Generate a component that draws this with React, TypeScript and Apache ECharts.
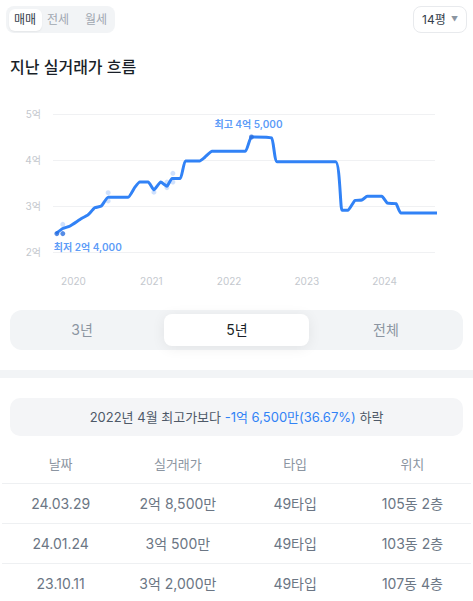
import React, { useEffect, useRef } from "react";
import * as echarts from "echarts";

// ---- Data ----
const lineDates = [
  "2019-10-10", "2019-11-12", "2019-12-14", "2020-02-08", "2020-03-08", "2020-04-10",
  "2020-05-11", "2020-06-12", "2020-09-14", "2020-10-16", "2020-11-08", "2020-12-17",
  "2021-01-13", "2021-02-14", "2021-03-15", "2021-04-08", "2021-05-17", "2021-06-10",
  "2021-08-16", "2021-09-09", "2021-10-13", "2022-03-18", "2022-04-16", "2022-07-19",
  "2022-08-15", "2023-05-16", "2023-06-15", "2023-07-14", "2023-08-15", "2023-09-16",
  "2023-10-12", "2023-12-19", "2024-01-15", "2024-02-24", "2024-03-17", "2024-09-22",
];
const lineValues = [
  24000, 25100, 25600, 27300, 28000, 29600,
  30000, 31900, 31900, 34100, 35200, 35200,
  33500, 35200, 34300, 36000, 36000, 39800,
  39800, 40600, 41900, 41900, 45000, 44800,
  39600, 39600, 29100, 29100, 31200, 31300,
  32100, 32100, 30600, 30500, 28500, 28500,
];
const tradeDates = [
  "2019-11-12", "2020-06-12", "2020-06-12", "2021-01-13",
  "2021-03-15", "2021-03-15", "2021-04-12", "2021-04-12",
];
const tradeValues = [26000, 32900, 31100, 33000, 35200, 34000, 37100, 35200];
const extremeDates = ["2019-10-15", "2019-11-12", "2022-04-16"];
const extremeValues = [24000, 24000, 45000];
const extremeLabels = ["최저 2억 4,000", "", "최고 4억 5,000"];
const yTicks = [20000, 30000, 40000, 50000];
const yearTicks = [2020, 2021, 2022, 2023, 2024];
const axisStart = "2019-09-27";
const axisEnd = "2024-08-25";

const dealTabs = ["매매", "전세", "월세"];
const periodTabs = ["3년", "5년", "전체"];
const tableHeaders = ["날짜", "실거래가", "타입", "위치"];
const rowDates = ["24.03.29", "24.01.24", "23.10.11"];
const rowPrices = ["2억 8,500만", "3억 500만", "3억 2,000만"];
const rowTypes = ["49타입", "49타입", "49타입"];
const rowLocations = ["105동 2층", "103동 2층", "107동 4층"];

const FONT = "Inter, 'Noto Sans CJK KR', 'Noto Sans', sans-serif";
const BLUE = "#3182f6";

const ts = (s: string) => {
  const [y, m, d] = s.split("-").map(Number);
  return new Date(y, m - 1, d).getTime();
};

function Chart() {
  const ref = useRef<HTMLDivElement>(null);
  useEffect(() => {
    if (!ref.current) return;
    const chart = echarts.init(ref.current, undefined, { renderer: "svg" });
    chart.setOption({
      animation: false,
      textStyle: { fontFamily: FONT },
      grid: { left: 53, right: 38, top: 24, height: 138 },
      xAxis: {
        type: "value",
        min: ts(axisStart),
        max: ts(axisEnd),
        axisLine: { show: false },
        axisTick: { show: false },
        splitLine: { show: false },
        axisLabel: {
          customValues: yearTicks.map((y) => new Date(y, 0, 1).getTime()),
          formatter: (v: number) => String(new Date(v).getFullYear()),
          color: "#c4c8ce",
          fontSize: 10,
          margin: 24,
        },
      },
      yAxis: {
        type: "value",
        min: yTicks[0],
        max: yTicks[yTicks.length - 1],
        interval: 10000,
        axisLine: { show: false },
        axisTick: { show: false },
        splitLine: { lineStyle: { color: "#f0f1f3", width: 1 } },
        axisLabel: {
          formatter: (v: number) => `${v / 10000}억`,
          color: "#c4c8ce",
          fontSize: 10,
          margin: 12,
        },
      },
      series: [
        {
          type: "scatter",
          data: tradeDates.map((d, i) => [ts(d), tradeValues[i]]),
          symbolSize: 5,
          itemStyle: { color: "#c4d9fb" },
          z: 1,
        },
        {
          type: "line",
          data: lineDates.map((d, i) => [ts(d), lineValues[i]]),
          showSymbol: false,
          smooth: 0.15,
          clip: false,
          lineStyle: { color: BLUE, width: 3 },
          z: 2,
        },
        {
          type: "scatter",
          data: extremeDates.map((d, i) => ({
            value: [ts(d), extremeValues[i]],
            label: {
              show: extremeLabels[i] !== "",
              formatter: extremeLabels[i],
              position: i === 0 ? "bottom" : "top",
              align: i === 0 ? "left" : "center",
              offset: i === 0 ? [-3, 1] : [-3, -1],
              color: BLUE,
              fontSize: 10,
              fontWeight: 600,
            },
          })),
          symbolSize: 5,
          itemStyle: { color: "#2a6fe0" },
          z: 3,
        },
      ],
    });
    return () => chart.dispose();
  }, []);
  return <div ref={ref} style={{ position: "absolute", left: 0, top: 90, width: 473, height: 210 }} />;
}

export default function App() {
  const colW = 469 / 4;
  return (
    <div
      style={{
        position: "fixed",
        left: 0,
        top: 0,
        width: 473,
        height: 601,
        background: "#fff",
        fontFamily: FONT,
        overflow: "hidden",
      }}
    >
      {/* deal type segmented control */}
      <div
        style={{
          position: "absolute", left: 6, top: 6, width: 109, height: 27,
          background: "#f2f4f6", borderRadius: 8,
        }}
      />
      <div
        style={{
          position: "absolute", left: 9, top: 9, width: 33, height: 22,
          background: "#fff", borderRadius: 6, boxShadow: "0 1px 2px rgba(0,0,0,0.06)",
        }}
      />
      {dealTabs.map((t, i) => (
        <div
          key={t}
          style={{
            position: "absolute", left: [25, 58, 96][i] - 20, top: 9, width: 40, height: 22,
            lineHeight: "22px", textAlign: "center", fontSize: 12,
            color: i === 0 ? "#333d4b" : "#a0a7b1",
          }}
        >
          {t}
        </div>
      ))}
      {/* size dropdown */}
      <div
        style={{
          position: "absolute", left: 413, top: 6, width: 52, height: 25,
          border: "1px solid #e8eaed", borderRadius: 8, fontSize: 12, color: "#333d4b",
          lineHeight: "25px",
        }}
      >
        <span style={{ position: "absolute", left: 8 }}>14평</span>
        <span style={{ position: "absolute", left: 37, fontSize: 7, color: "#8b95a1" }}>▼</span>
      </div>
      {/* title */}
      <div
        style={{
          position: "absolute", left: 10, top: 56, fontSize: 16, fontWeight: 500,
          color: "#191f28", lineHeight: "22px",
        }}
      >
        지난 실거래가 흐름
      </div>

      <Chart />

      {/* period selector */}
      <div
        style={{
          position: "absolute", left: 10, top: 310, width: 453, height: 40,
          background: "#f2f4f6", borderRadius: 12,
        }}
      />
      <div
        style={{
          position: "absolute", left: 164, top: 314, width: 145, height: 32,
          background: "#fff", borderRadius: 8, boxShadow: "0 2px 14px rgba(0,0,0,0.07)",
        }}
      />
      {periodTabs.map((t, i) => (
        <div
          key={t}
          style={{
            position: "absolute", left: [82, 237, 386][i] - 40, top: 314, width: 80, height: 32,
            lineHeight: "32px", textAlign: "center", fontSize: 14,
            color: i === 1 ? "#191f28" : "#8b95a1",
          }}
        >
          {t}
        </div>
      ))}

      {/* divider */}
      <div style={{ position: "absolute", left: 0, top: 370, width: 473, height: 8, background: "#f2f4f6" }} />

      {/* summary */}
      <div
        style={{
          position: "absolute", left: 10, top: 398, width: 453, height: 38,
          background: "#f4f5f7", borderRadius: 10, textAlign: "center",
          lineHeight: "38px", fontSize: 13, color: "#4e5968",
        }}
      >
        2022년 4월 최고가보다 <span style={{ color: BLUE }}>-1억 6,500만(36.67%)</span> 하락
      </div>

      {/* table */}
      {tableHeaders.map((h, i) => (
        <div
          key={h}
          style={{
            position: "absolute", left: 2 + colW * i, top: 454, width: colW, height: 20,
            lineHeight: "20px", textAlign: "center", fontSize: 13, color: "#8b95a1",
          }}
        >
          {h}
        </div>
      ))}
      {[483, 523, 563].map((y) => (
        <div key={y} style={{ position: "absolute", left: 2, top: y, width: 469, height: 1, background: "#eef0f2" }} />
      ))}
      {rowDates.map((d, r) =>
        [d, rowPrices[r], rowTypes[r], rowLocations[r]].map((c, i) => (
          <div
            key={`${r}-${i}`}
            style={{
              position: "absolute", left: 2 + colW * i, top: 494 + r * 40, width: colW, height: 20,
              lineHeight: "20px", textAlign: "center", fontSize: 14, color: "#6b7684",
            }}
          >
            {c}
          </div>
        ))
      )}
    </div>
  );
}
